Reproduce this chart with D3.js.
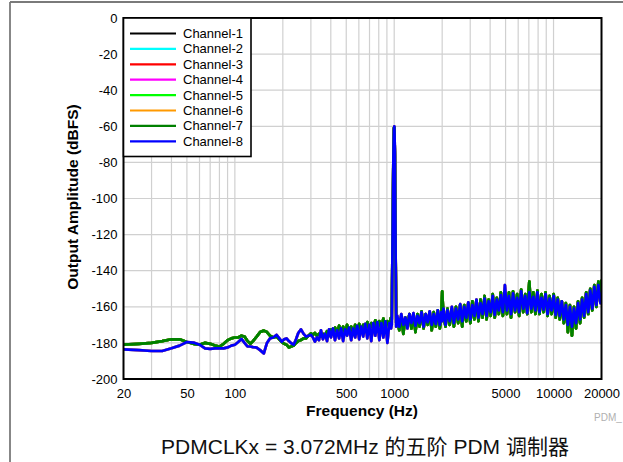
<!DOCTYPE html>
<html><head><meta charset="utf-8">
<script src="https://cdn.jsdelivr.net/npm/d3@7"></script>
<style>
body{margin:0;background:#fff;}
svg{display:block;font-family:"Liberation Sans",Arial,"Noto Sans CJK SC",sans-serif;}
</style></head>
<body>
<svg id="chart" width="623" height="462"></svg>
<script>
const channels = ["Channel-1","Channel-2","Channel-3","Channel-4","Channel-5","Channel-6","Channel-7","Channel-8"];
const channelColors = ["#000000","#00ffff","#ff0000","#ff00ff","#00ff00","#ff9900","#008000","#0000ff"];
const xTickLabels = [20,50,100,500,1000,5000,10000,20000];
const yTickLabels = [0,-20,-40,-60,-80,-100,-120,-140,-160,-180,-200];
const xGrid = [30,40,50,60,70,80,90,100,200,300,400,500,600,700,800,900,1000,2000,3000,4000,5000,6000,7000,8000,9000,10000];

const freq = [
20,25,30,35,40,45,50,55,60,65,70,75,80,85,90,95,100,105,110,115,120,125,130,137,144,152,159,166,174,183,190,197,204,211,218,226,234,242,250,260,270,280,290,
300,309,318,327,337,347,357,368,379,390,401,413,425,438,451,464,478,492,506,521,537,553,569,586,603,621,639,658,678,698,718,739,761,784,807,831,855,880,906,932,955,
965,978,988,996,1002,1010,1020,1030,
1045,1076,1108,1141,1175,1210,1246,1283,1321,1360,
1400,1442,1485,1529,1575,1622,1670,1720,1771,1824,
1878,1934,1975,2000,2040,2100,2160,2230,2300,2370,
2440,2520,2595,2672,2752,2834,2918,3005,3095,3187,
3282,3380,3481,3585,3692,3802,3915,4032,4152,4276,
4404,4535,4670,4809,4952,5100,5252,5409,5570,5736,
5907,6083,6264,6451,6643,6841,7045,7255,7471,7694,
7923,8159,8402,8652,8910,9175,9448,9730,10020,10318,
10626,10942,11268,11604,11950,12306,12673,13050,13439,13840,
14252,14677,15114,15565,16029,16506,16998,17505,18026,18564,
19117,19687,20000];

// Channels 1,3,5,7 (green trace visible on top of odd channels)
const oddChannelValues = [
-181,-180.5,-180,-179,-178,-178,-179.5,-180.5,-181,-180,-180.5,-181.5,-182,-180.5,-178.5,-177.5,-177,-177,-176,-176.5,-179,-180.5,-179,-176.5,-174,-173.2,-174,-176,-177,-176.5,-178,-179.5,-180.5,-181,-182.5,-182,-181.5,-180,-179,-178.4,-177.5,-177.5,-176,
-174.7,-175.5,-174.5,-176,-175,-176.5,-175,-176,-173.5,-176,-172.5,-175,-171.5,-174.5,-170.5,-174,-171,-175,-170,-173.5,-171,-175.5,-170,-173,-169.5,-174,-170,-172.5,-168.5,-174,-169,-172,-167.5,-173.5,-168,-171.5,-166.5,-173,-168,-170,-166,
-167,-118,-78,-61,-60.5,-76,-128,-169,
-167,-173,-165,-175,-166,-171,-164,-172,-165,-174,
-164,-171,-162.5,-172,-164,-170,-163,-173,-163,-171,
-162,-172,-165,-151.5,-165,-171,-161,-170,-161,-171,
-160,-169,-159,-171,-159,-168,-158,-169,-157,-167,
-156.5,-168,-156,-166,-154,-167,-156,-165,-153,-166,
-155,-164,-152,-165,-153,-164,-152,-166,-151.5,-163,
-153,-165,-150.5,-163,-153,-164,-146,-163,-152,-164,
-151,-164,-153,-163,-152,-165,-154,-164,-153,-166,
-155,-167,-157,-169,-158,-174,-159,-176,-160,-172,
-157,-169,-155,-166,-152,-164,-150,-162,-148,-160,
-146,-157,-145];

// Channels 2,4,6,8 (blue trace visible on top of even channels)
const evenChannelValues = [
-183.6,-184,-184.5,-184.5,-183,-181.5,-179.5,-179.8,-181,-183,-183.3,-183,-183,-183,-182.5,-181.5,-181,-179.5,-177.8,-180,-182,-182,-182.3,-182.6,-184,-185.8,-180,-177.5,-177,-175.6,-177.5,-179.3,-178,-177.5,-179,-180.2,-181,-178,-174.5,-172.5,-175,-176.5,-176,
-175.6,-177,-179.3,-177,-178.5,-173,-178,-175,-179,-172.5,-177,-172,-178.5,-173,-177.5,-172,-179,-172.5,-176,-171.5,-178.5,-172,-177,-170.5,-178,-171,-176.5,-169.5,-177.5,-170,-179,-169,-176,-168.5,-178.5,-169,-177,-168,-180,-169,-172,
-170,-120,-80,-62,-60,-74,-130,-171,
-165,-171,-164,-170,-166,-172,-164,-169,-163.5,-170.5,
-165,-169,-163,-171,-164,-168.5,-162.5,-170,-164,-169.5,
-162,-170,-163,-168,-161,-170,-162,-168,-160,-169,
-161,-167,-158.5,-168,-160,-166,-157.5,-167,-159,-165,
-156,-166,-158,-164,-155.5,-165,-157,-163,-154,-164.5,
-156,-162,-153.5,-163,-148,-162,-154,-164,-152.5,-162,
-155,-163,-151.5,-161,-154,-163.5,-152,-161,-154.5,-162,
-152,-163,-155,-161.5,-153,-164,-155.5,-162,-154,-164.5,
-156,-165,-157,-167,-159,-170,-160,-171,-161,-169,
-158,-167,-156,-165,-153,-163,-151,-161,-149,-159,
-148,-158,-152];

const seriesValues = [oddChannelValues, evenChannelValues, oddChannelValues, evenChannelValues,
                      oddChannelValues, evenChannelValues, oddChannelValues, evenChannelValues];

const svg = d3.select("#chart");
const L = 123.5, R = 601.5, T = 18, B = 379;
const x = d3.scaleLog().domain([20, 20000]).range([L, R]);
const y = d3.scaleLinear().domain([-200, 0]).range([B, T]);

// outer frame lines
svg.append("line").attr("x1",10).attr("x2",623).attr("y1",2).attr("y2",2).attr("stroke","#7a7a7a").attr("stroke-width",1.8);
svg.append("line").attr("x1",10).attr("x2",10).attr("y1",2).attr("y2",462).attr("stroke","#7a7a7a").attr("stroke-width",1.8);

// grid
const g = svg.append("g");
g.selectAll(".vg").data(xGrid).enter().append("line")
  .attr("x1",d=>x(d)).attr("x2",d=>x(d)).attr("y1",T).attr("y2",B)
  .attr("stroke","#d0d0d0").attr("stroke-width",1.2);
g.selectAll(".hg").data(yTickLabels.filter(v=>v>-200 && v<0)).enter().append("line")
  .attr("x1",L).attr("x2",R).attr("y1",d=>y(d)).attr("y2",d=>y(d))
  .attr("stroke","#d0d0d0").attr("stroke-width",1.2);

// clip
svg.append("clipPath").attr("id","clip").append("rect").attr("x",L).attr("y",T).attr("width",R-L).attr("height",B-T);

const line = d3.line().x((d,i)=>x(freq[i])).y(d=>y(d));
const lines = svg.append("g").attr("clip-path","url(#clip)");
seriesValues.forEach((vals,k)=>{
  lines.append("path").datum(vals).attr("d",line)
    .attr("fill","none").attr("stroke",channelColors[k]).attr("stroke-width",2.7)
    .attr("stroke-linejoin","round");
});

// border
svg.append("rect").attr("x",L).attr("y",T).attr("width",R-L).attr("height",B-T)
  .attr("fill","none").attr("stroke","#000").attr("stroke-width",2);

// axes
const yAxis = d3.axisLeft(y).tickValues(yTickLabels).tickSize(0).tickPadding(6).tickFormat(d=>d);
const ya = svg.append("g").attr("transform",`translate(${L},0)`).call(yAxis);
ya.select(".domain").remove();
ya.selectAll("text").attr("font-size",13).attr("fill","#000").style("font-family","'Liberation Sans',Arial,sans-serif");

const xAxis = d3.axisBottom(x).tickValues(xTickLabels).tickSize(0).tickPadding(10).tickFormat(d=>d);
const xa = svg.append("g").attr("transform",`translate(0,${B})`).call(xAxis);
xa.select(".domain").remove();
xa.selectAll("text").attr("font-size",13).attr("fill","#000").style("font-family","'Liberation Sans',Arial,sans-serif");

// axis titles
svg.append("text").attr("x",362).attr("y",416).attr("text-anchor","middle")
  .attr("font-size",15.5).attr("font-weight","bold").text("Frequency (Hz)");
svg.append("text").attr("transform","translate(78,197) rotate(-90)").attr("text-anchor","middle")
  .attr("font-size",15.5).attr("font-weight","bold").text("Output Amplitude (dBFS)");

svg.append("text").attr("x",594).attr("y",421).attr("font-size",10).attr("fill","#b0b0b0").text("PDM_");

// caption
svg.append("text").attr("x",365).attr("y",454).attr("text-anchor","middle")
  .attr("font-size",21).attr("fill","#111").text("PDMCLKx = 3.072MHz 的五阶 PDM 调制器");

// legend
const lg = svg.append("g");
lg.append("rect").attr("x",L).attr("y",T).attr("width",251-L).attr("height",156.5-T)
  .attr("fill","#fff").attr("stroke","#000").attr("stroke-width",1.6);
channels.forEach((c,i)=>{
  const yy = 33.5 + i*15.4;
  lg.append("line").attr("x1",130).attr("x2",176).attr("y1",yy).attr("y2",yy)
    .attr("stroke",channelColors[i]).attr("stroke-width",2.2);
  lg.append("text").attr("x",183).attr("y",yy+4.5).attr("font-size",13).attr("fill","#000").text(c);
});
</script>
</body></html>
